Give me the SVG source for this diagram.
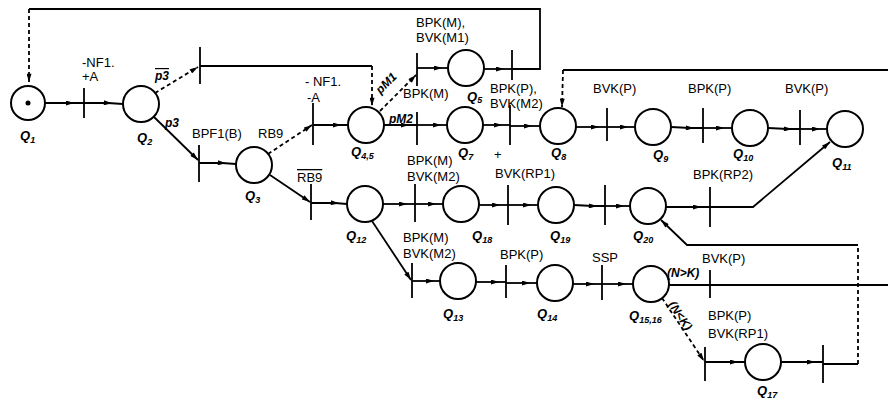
<svg xmlns="http://www.w3.org/2000/svg" width="888" height="401" viewBox="0 0 888 401">
<defs>
<marker id="ar" viewBox="0 0 10 6" refX="5" refY="3" markerWidth="9" markerHeight="5" markerUnits="userSpaceOnUse" orient="auto"><path d="M0,0 L10,3 L0,6 z" fill="#000"/></marker>
<marker id="ae" viewBox="0 0 10 6" refX="10" refY="3" markerWidth="9" markerHeight="5" markerUnits="userSpaceOnUse" orient="auto"><path d="M0,0 L10,3 L0,6 z" fill="#000"/></marker>
</defs>
<style>
.pl{fill:#fff;stroke:#000;stroke-width:2}
.tr{stroke:#000;stroke-width:1.8}
.arc{fill:none;stroke:#000;stroke-width:1.8}
.m{marker-mid:url(#ar)}
.e{marker-end:url(#ae)}
.d{stroke-dasharray:4 3}
.lb{font-family:"Liberation Sans",Arial,sans-serif;font-size:13px;fill:#000}
.q{font-family:"Liberation Sans",Arial,sans-serif;font-size:13px;font-weight:bold;font-style:italic;fill:#000}
.s{font-size:9px}
.h{font-family:"Liberation Sans",Arial,sans-serif;font-size:12px;font-style:italic;font-weight:bold;fill:#000}
</style>
<rect width="888" height="401" fill="#fff"/>
<g id="connectors">
<path class="arc m" d="M45,103 L70,103 L84,103"/>
<path class="arc m" d="M84,103 L108,103 L123,104"/>
<path class="arc d e" d="M155,93 L198,67"/>
<path class="arc e" d="M154,117 L198,160"/>
<path class="arc m" d="M199,163 L222,163 L236,164"/>
<path class="arc d e" d="M268,154 L312,125"/>
<path class="arc e" d="M270,175 L310,202"/>
<path class="arc m" d="M313,125 L337,125 L348,125"/>
<path class="arc d e" d="M380,111 L416,75"/>
<path class="arc m" d="M417,68 L438,68 L448,68"/>
<path class="arc m" d="M484,69 L500,69 L512,69"/>
<path class="arc" d="M512,69 L540,69 L540,9 L29,9"/>
<path class="arc d e" d="M29,9 L29,82"/>
<path class="arc" d="M200,66 L372,66"/>
<path class="arc d e" d="M372,66 L372,106"/>
<path class="arc m" d="M384,125 L405,125 L417,125"/>
<path class="arc m" d="M417,125 L437,125 L447,125"/>
<path class="arc m" d="M483,125 L498,125 L510,125"/>
<path class="arc m" d="M510,126 L528,126 L540,126"/>
<path class="arc d e" d="M563,70 L562,107"/>
<path class="arc" d="M563,70 L888,70"/>
<path class="arc m" d="M576,127 L595,127 L607,127"/>
<path class="arc m" d="M607,127 L624,127 L635,127"/>
<path class="arc m" d="M671,127 L690,128 L703,128"/>
<path class="arc m" d="M703,128 L720,128 L732,128"/>
<path class="arc m" d="M768,128 L788,129 L800,129"/>
<path class="arc m" d="M800,129 L816,129 L827,129"/>
<path class="arc m" d="M311,203 L335,203 L347,204"/>
<path class="arc m" d="M383,204 L403,204 L415,204"/>
<path class="arc m" d="M415,204 L432,204 L443,204"/>
<path class="arc m" d="M479,205 L496,205 L508,205"/>
<path class="arc m" d="M508,205 L527,205 L538,205"/>
<path class="arc m" d="M574,205 L593,206 L605,206"/>
<path class="arc m" d="M605,206 L620,206 L630,206"/>
<path class="arc m" d="M666,207 L697,207 L710,207"/>
<path class="arc e" d="M710,207 L753,207 L830,142"/>
<path class="arc e" d="M372,221 L411,280"/>
<path class="arc m" d="M412,281 L430,281 L440,281"/>
<path class="arc m" d="M476,282 L495,282 L506,282"/>
<path class="arc m" d="M506,283 L526,283 L537,283"/>
<path class="arc m" d="M573,284 L590,284 L602,284"/>
<path class="arc m" d="M602,284 L622,284 L633,284"/>
<path class="arc" d="M669,285 L888,285"/>
<path class="arc d e" d="M662,298 L704,361"/>
<path class="arc m" d="M705,362 L734,362 L745,362"/>
<path class="arc m" d="M781,362 L811,362 L823,362"/>
<path class="arc" d="M823,364 L858,364"/>
<path class="arc d" d="M858,364 L858,245"/>
<path class="arc e" d="M858,245 L687,245 L661,220"/>
</g>
<g id="transitions">
<line class="tr" x1="84" y1="88" x2="84" y2="118"/>
<line class="tr" x1="200" y1="47" x2="200" y2="84"/>
<line class="tr" x1="199" y1="145" x2="199" y2="182"/>
<line class="tr" x1="313" y1="103" x2="313" y2="145"/>
<line class="tr" x1="417" y1="53" x2="417" y2="86"/>
<line class="tr" x1="417" y1="112" x2="417" y2="145"/>
<line class="tr" x1="512" y1="50" x2="512" y2="80"/>
<line class="tr" x1="510" y1="105" x2="510" y2="145"/>
<line class="tr" x1="607" y1="108" x2="607" y2="141"/>
<line class="tr" x1="703" y1="108" x2="703" y2="143"/>
<line class="tr" x1="800" y1="110" x2="800" y2="145"/>
<line class="tr" x1="311" y1="184" x2="311" y2="220"/>
<line class="tr" x1="415" y1="184" x2="415" y2="222"/>
<line class="tr" x1="508" y1="185" x2="508" y2="225"/>
<line class="tr" x1="605" y1="185" x2="605" y2="225"/>
<line class="tr" x1="710" y1="187" x2="710" y2="227"/>
<line class="tr" x1="412" y1="263" x2="412" y2="298"/>
<line class="tr" x1="506" y1="265" x2="506" y2="298"/>
<line class="tr" x1="602" y1="265" x2="602" y2="300"/>
<line class="tr" x1="710" y1="270" x2="710" y2="298"/>
<line class="tr" x1="705" y1="347" x2="705" y2="381"/>
<line class="tr" x1="823" y1="345" x2="823" y2="383"/>
</g>
<g id="Q1"><circle class="pl" cx="28" cy="103" r="17"/><circle cx="28" cy="103" r="2.5" fill="#000"/><text class="q" x="20" y="140">Q<tspan class="s" dy="3">1</tspan></text></g>
<g id="Q2"><circle class="pl" cx="141" cy="104" r="18"/><text class="q" x="137" y="142">Q<tspan class="s" dy="3">2</tspan></text></g>
<g id="Q3"><circle class="pl" cx="254" cy="165" r="18"/><text class="q" x="245" y="200">Q<tspan class="s" dy="3">3</tspan></text></g>
<g id="Q45"><circle class="pl" cx="366" cy="125" r="18"/><text class="q" x="351" y="156">Q<tspan class="s" dy="3">4,5</tspan></text></g>
<g id="Q5"><circle class="pl" cx="466" cy="68" r="18"/><text class="q" x="467" y="101">Q<tspan class="s" dy="2">5</tspan></text></g>
<g id="Q7"><circle class="pl" cx="465" cy="125" r="18"/><text class="q" x="458" y="157">Q<tspan class="s" dy="3">7</tspan></text></g>
<g id="Q8"><circle class="pl" cx="558" cy="126" r="18"/><text class="q" x="551" y="157">Q<tspan class="s" dy="3">8</tspan></text></g>
<g id="Q9"><circle class="pl" cx="653" cy="127" r="18"/><text class="q" x="653" y="159">Q<tspan class="s" dy="3">9</tspan></text></g>
<g id="Q10"><circle class="pl" cx="750" cy="128" r="18"/><text class="q" x="733" y="158">Q<tspan class="s" dy="3">10</tspan></text></g>
<g id="Q11"><circle class="pl" cx="845" cy="129" r="18"/><text class="q" x="832" y="167">Q<tspan class="s" dy="3">11</tspan></text></g>
<g id="Q12"><circle class="pl" cx="365" cy="204" r="18"/><text class="q" x="346" y="240">Q<tspan class="s" dy="3">12</tspan></text></g>
<g id="Q18"><circle class="pl" cx="461" cy="204" r="18"/><text class="q" x="472" y="240">Q<tspan class="s" dy="3">18</tspan></text></g>
<g id="Q19"><circle class="pl" cx="556" cy="205" r="18"/><text class="q" x="550" y="240">Q<tspan class="s" dy="3">19</tspan></text></g>
<g id="Q20"><circle class="pl" cx="648" cy="206" r="18"/><text class="q" x="633" y="240">Q<tspan class="s" dy="3">20</tspan></text></g>
<g id="Q13"><circle class="pl" cx="458" cy="281" r="18"/><text class="q" x="443" y="318">Q<tspan class="s" dy="3">13</tspan></text></g>
<g id="Q14"><circle class="pl" cx="555" cy="283" r="18"/><text class="q" x="537" y="318">Q<tspan class="s" dy="3">14</tspan></text></g>
<g id="Q1516"><circle class="pl" cx="651" cy="284" r="18"/><text class="q" x="629" y="320">Q<tspan class="s" dy="3">15,16</tspan></text></g>
<g id="Q17"><circle class="pl" cx="763" cy="362" r="18"/><text class="q" x="757" y="395">Q<tspan class="s" dy="3">17</tspan></text></g>
<g id="labels">
<text class="lb" x="82" y="67">-NF1.</text>
<text class="lb" x="82" y="81">+A</text>
<text class="h" x="155" y="80" text-decoration="overline">p3</text>
<text class="h" x="165" y="127">p3</text>
<text class="lb" x="192" y="138">BPF1(B)</text>
<text class="lb" x="258" y="138">RB9</text>
<text class="lb" x="305" y="86">- NF1.</text>
<text class="lb" x="307" y="102">-A</text>
<text class="lb" x="416" y="27">BPK(M),</text>
<text class="lb" x="416" y="42">BVK(M1)</text>
<text class="h" transform="translate(389,86) rotate(-45)" text-anchor="middle">pM1</text>
<text class="h" x="389" y="123" font-size="11">pM2</text>
<text class="lb" x="403" y="98">BPK(M)</text>
<text class="lb" x="490" y="93">BPK(P),</text>
<text class="lb" x="490" y="108">BVK(M2)</text>
<text class="lb" x="407" y="165">BPK(M)</text>
<text class="lb" x="407" y="181">BVK(M2)</text>
<text class="lb" x="494" y="159">+</text>
<text class="lb" x="495" y="178">BVK(RP1)</text>
<text class="lb" x="593" y="93">BVK(P)</text>
<text class="lb" x="688" y="93">BPK(P)</text>
<text class="lb" x="785" y="93">BVK(P)</text>
<text class="lb" x="693" y="179">BPK(RP2)</text>
<text class="lb" x="297" y="182" text-decoration="overline">RB9</text>
<text class="lb" x="403" y="242">BPK(M)</text>
<text class="lb" x="403" y="258">BVK(M2)</text>
<text class="lb" x="500" y="259">BPK(P)</text>
<text class="lb" x="592" y="262">SSP</text>
<text class="lb" x="702" y="263">BVK(P)</text>
<text class="h" x="667" y="277">(N&gt;K)</text>
<text class="h" transform="translate(677,318) rotate(56)" text-anchor="middle">(N&lt;K)</text>
<text class="lb" x="708" y="320">BPK(P)</text>
<text class="lb" x="708" y="338">BVK(RP1)</text>
</g>
</svg>
